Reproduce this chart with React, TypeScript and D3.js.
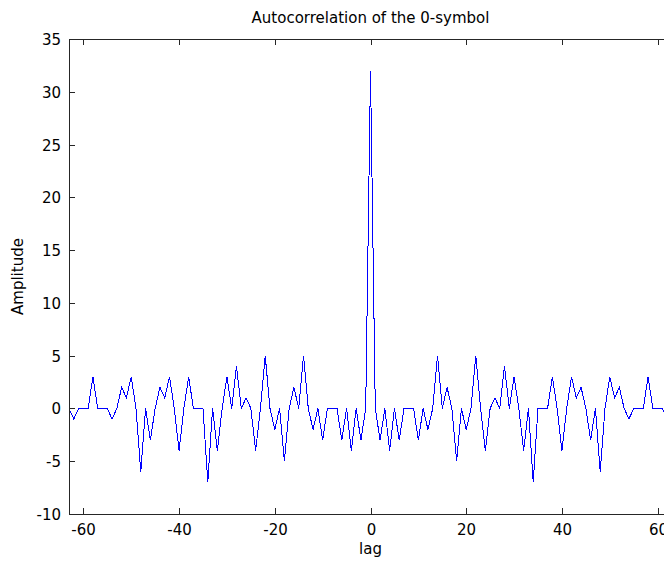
import * as d3 from 'd3';
import React from 'react';

// autocorrelation values, lag -63 .. 63
const lagStart = -63;
const amplitude = [
  0, -1, 0, 0, 0, 3, 0, 0, 0, -1, 0, 2, 1, 3, 0, -6,
  0, -3, 0, 2, 1, 3, 0, -4, 0, 3, 0, 0, 0, -7, 0, -4,
  0, 3, 0, 4, 0, 1, 0, -4, 0, 5, 0, -2, 0, -5, 0, 2,
  0, 5, 0, -2, 0, -3, 0, 0, 0, -3, 0, -4, 0, -3, 0,
  32,
  0, -3, 0, -4, 0, -3, 0, 0, 0, -3, 0, -2, 0, 5, 0, 2,
  0, -5, 0, -2, 0, 5, 0, -4, 0, 1, 0, 4, 0, 3, 0, -4,
  0, -7, 0, 0, 0, 3, 0, -4, 0, 3, 1, 2, 0, -3, 0, -6,
  0, 3, 1, 2, 0, -1, 0, 0, 0, 3, 0, 0, 0, -1, 0,
];
const lags = amplitude.map((_, i) => lagStart + i);

const xTicks = [-60, -40, -20, 0, 20, 40, 60];
const yTicks = [-10, -5, 0, 5, 10, 15, 20, 25, 30, 35];

const width = 664;
const height = 564;
const plot = { left: 69, right: 672, top: 39, bottom: 514 };
const font = '"DejaVu Sans", sans-serif';
const fontSize = 15;
const tickLen = 6;
const axisColor = '#262626';

const App: React.FC = () => {
  const x = d3.scaleLinear().domain([-63, 63]).range([plot.left, plot.right]);
  const y = d3.scaleLinear().domain([-10, 35]).range([plot.bottom, plot.top]);

  const line = d3
    .line<number>()
    .x((_, i) => x(lags[i]))
    .y((d) => y(d));

  const midX = (plot.left + plot.right) / 2;
  const midY = (plot.top + plot.bottom) / 2;

  return (
    <svg
      width={width}
      height={height}
      style={{ position: 'absolute', left: 0, top: 0, background: '#fff' }}
      fontFamily={font}
      fontSize={fontSize}
    >
      <defs>
        <clipPath id="plot-area">
          <rect x={plot.left} y={plot.top} width={plot.right - plot.left} height={plot.bottom - plot.top} />
        </clipPath>
      </defs>

      {/* MATLAB draws the trace without anti-aliasing */}
      <path
        d={line(amplitude) ?? ''}
        fill="none"
        stroke="#0000ff"
        strokeWidth={1}
        shapeRendering="crispEdges"
        clipPath="url(#plot-area)"
      />

      <rect
        x={plot.left + 0.5}
        y={plot.top + 0.5}
        width={plot.right - plot.left}
        height={plot.bottom - plot.top}
        fill="none"
        stroke={axisColor}
        strokeWidth={1}
        shapeRendering="crispEdges"
      />

      {xTicks.map((t) => (
        <g key={`x-${t}`} transform={`translate(${Math.round(x(t)) + 0.5},0)`}>
          <line y1={plot.bottom} y2={plot.bottom - tickLen} stroke={axisColor} shapeRendering="crispEdges" />
          <line y1={plot.top} y2={plot.top + tickLen} stroke={axisColor} shapeRendering="crispEdges" />
          <text y={plot.bottom + 21} textAnchor="middle" fill="#000">
            {t}
          </text>
        </g>
      ))}

      {yTicks.map((t) => (
        <g key={`y-${t}`} transform={`translate(0,${Math.round(y(t)) + 0.5})`}>
          <line x1={plot.left} x2={plot.left + tickLen} stroke={axisColor} shapeRendering="crispEdges" />
          <line x1={plot.right} x2={plot.right - tickLen} stroke={axisColor} shapeRendering="crispEdges" />
          <text x={plot.left - 8} dy="0.36em" textAnchor="end" fill="#000">
            {t}
          </text>
        </g>
      ))}

      <text x={midX} y={23} textAnchor="middle" fill="#000">
        Autocorrelation of the 0-symbol
      </text>
      <text x={midX} y={554} textAnchor="middle" fill="#000">
        lag
      </text>
      <text transform={`translate(23,${midY}) rotate(-90)`} textAnchor="middle" fill="#000">
        Amplitude
      </text>
    </svg>
  );
};

export default App;
